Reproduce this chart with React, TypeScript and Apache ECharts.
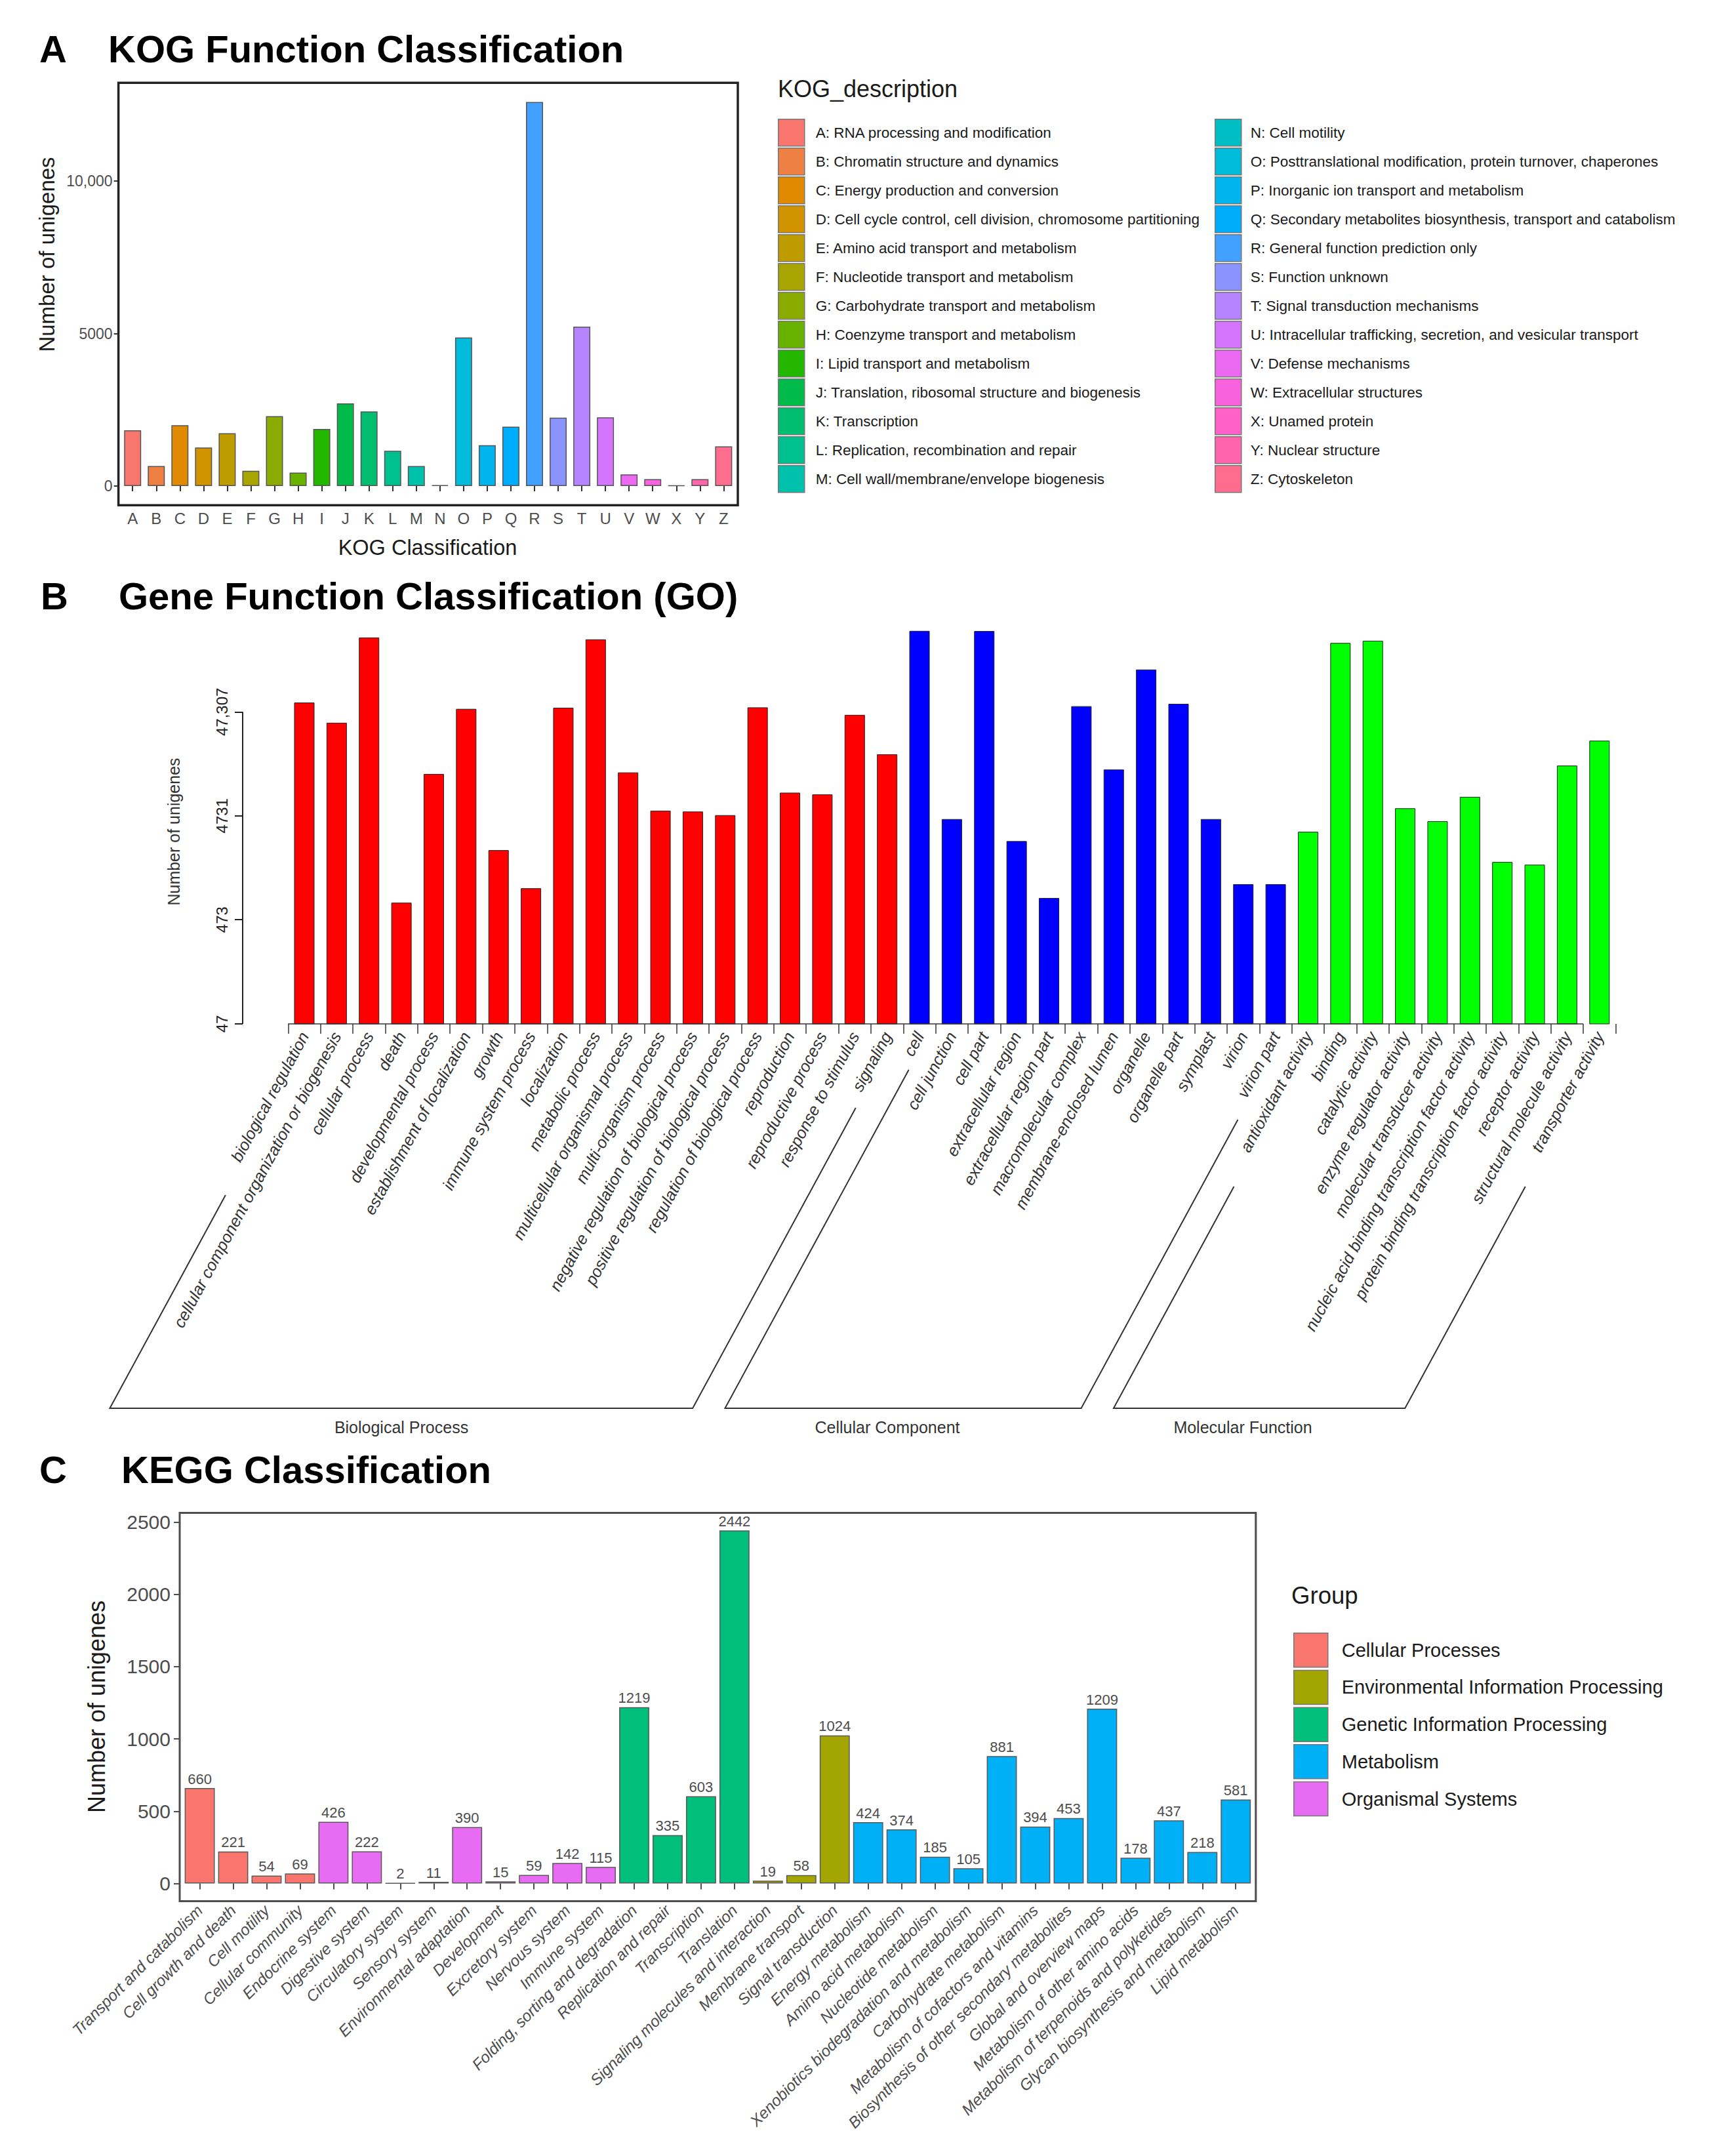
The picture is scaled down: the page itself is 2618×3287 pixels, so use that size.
import React, { useEffect, useRef } from 'react';
import * as echarts from 'echarts';

const FONT = '"Liberation Sans", Arial, Helvetica, sans-serif';

// ---------------- Panel A: KOG ----------------
const kogLetters = ['A', 'B', 'C', 'D', 'E', 'F', 'G', 'H', 'I', 'J', 'K', 'L', 'M', 'N', 'O', 'P', 'Q', 'R', 'S', 'T', 'U', 'V', 'W', 'X', 'Y', 'Z'];
const kogDescriptions = [
  'RNA processing and modification',
  'Chromatin structure and dynamics',
  'Energy production and conversion',
  'Cell cycle control, cell division, chromosome partitioning',
  'Amino acid transport and metabolism',
  'Nucleotide transport and metabolism',
  'Carbohydrate transport and metabolism',
  'Coenzyme transport and metabolism',
  'Lipid transport and metabolism',
  'Translation, ribosomal structure and biogenesis',
  'Transcription',
  'Replication, recombination and repair',
  'Cell wall/membrane/envelope biogenesis',
  'Cell motility',
  'Posttranslational modification, protein turnover, chaperones',
  'Inorganic ion transport and metabolism',
  'Secondary metabolites biosynthesis, transport and catabolism',
  'General function prediction only',
  'Function unknown',
  'Signal transduction mechanisms',
  'Intracellular trafficking, secretion, and vesicular transport',
  'Defense mechanisms',
  'Extracellular structures',
  'Unamed protein',
  'Nuclear structure',
  'Cytoskeleton',
];
const kogCounts = [1826, 656, 1993, 1265, 1730, 501, 2291, 442, 1873, 2709, 2446, 1158, 656, 30, 4869, 1337, 1945, 12590, 2243, 5227, 2255, 382, 227, 20, 227, 1301];
const kogTickValues = [0, 5000, 10000];
const kogTickLabels = ['0', '5000', '10,000'];

// ---------------- Panel B: GO ----------------
const goTerms = [
  'biological regulation',
  'cellular component organization or biogenesis',
  'cellular process',
  'death',
  'developmental process',
  'establishment of localization',
  'growth',
  'immune system process',
  'localization',
  'metabolic process',
  'multicellular organismal process',
  'multi-organism process',
  'negative regulation of biological process',
  'positive regulation of biological process',
  'regulation of biological process',
  'reproduction',
  'reproductive process',
  'response to stimulus',
  'signaling',
  'cell',
  'cell junction',
  'cell part',
  'extracellular region',
  'extracellular region part',
  'macromolecular complex',
  'membrane-enclosed lumen',
  'organelle',
  'organelle part',
  'symplast',
  'virion',
  'virion part',
  'antioxidant activity',
  'binding',
  'catalytic activity',
  'enzyme regulator activity',
  'molecular transducer activity',
  'nucleic acid binding transcription factor activity',
  'protein binding transcription factor activity',
  'receptor activity',
  'structural molecule activity',
  'transporter activity',
];
const goGroupOf = [
  0, 0, 0, 0, 0, 0, 0, 0, 0, 0, 0, 0, 0, 0, 0, 0, 0, 0, 0,
  1, 1, 1, 1, 1, 1, 1, 1, 1, 1, 1, 1,
  2, 2, 2, 2, 2, 2, 2, 2, 2, 2,
];
const goCounts = [
  58200, 37200, 246000, 690, 11960, 50600, 2210, 950, 51900, 236000, 12370, 5300, 5200, 4800, 52300, 7900, 7600, 44300, 18500,
  285000, 4400, 284000, 2700, 765, 53700, 13200, 121000, 56600, 4400, 1040, 1040,
  3320, 218000, 229000, 5590, 4200, 7200, 1700, 1600, 14400, 25000,
];
const goGroupNames = ['Biological Process', 'Cellular Component', 'Molecular Function'];
const goGroupColors = ['#FF0000', '#0000FF', '#00FF00'];
const goTickValues = [47, 473, 4731, 47307];
const goTickLabels = ['47', '473', '4731', '47,307'];

// ---------------- Panel C: KEGG ----------------
const keggPathways = [
  'Transport and catabolism',
  'Cell growth and death',
  'Cell motility',
  'Cellular community',
  'Endocrine system',
  'Digestive system',
  'Circulatory system',
  'Sensory system',
  'Environmental adaptation',
  'Development',
  'Excretory system',
  'Nervous system',
  'Immune system',
  'Folding, sorting and degradation',
  'Replication and repair',
  'Transcription',
  'Translation',
  'Signaling molecules and interaction',
  'Membrane transport',
  'Signal transduction',
  'Energy metabolism',
  'Amino acid metabolism',
  'Nucleotide metabolism',
  'Xenobiotics biodegradation and metabolism',
  'Carbohydrate metabolism',
  'Metabolism of cofactors and vitamins',
  'Biosynthesis of other secondary metabolites',
  'Global and overview maps',
  'Metabolism of other amino acids',
  'Metabolism of terpenoids and polyketides',
  'Glycan biosynthesis and metabolism',
  'Lipid metabolism',
];
const keggGroups = [
  'Cellular Processes',
  'Environmental Information Processing',
  'Genetic Information Processing',
  'Metabolism',
  'Organismal Systems',
];
const keggGroupOf = [
  0, 0, 0, 0,
  4, 4, 4, 4, 4, 4, 4, 4, 4,
  2, 2, 2, 2,
  1, 1, 1,
  3, 3, 3, 3, 3, 3, 3, 3, 3, 3, 3, 3,
];
const keggCounts = [660, 221, 54, 69, 426, 222, 2, 11, 390, 15, 59, 142, 115, 1219, 335, 603, 2442, 19, 58, 1024, 424, 374, 185, 105, 881, 394, 453, 1209, 178, 437, 218, 581];
const keggTickValues = [0, 500, 1000, 1500, 2000, 2500];
const keggTickLabels = ['0', '500', '1000', '1500', '2000', '2500'];

// ---------------- layout (pixels) ----------------
const LAYOUT = {
  frameA: { x: 180.6, y: 126.3, w: 944.4, h: 644 },
  frameC: { x: 274, y: 2306.4, w: 1640.8, h: 592 },
  gridB: { left: 439.3, top: 927.4, width: 2024.2, height: 633.6, yOffset: 69.3 },
  goMax: 470000,
  goSlant: 1.842,
  goLineDx: 14,
  goLineDy: 14,
  goBracketBottom: 586,
  goBracketTops: [[261, 128], [70, 146], [248, 248]],
  goGroupLabelX: [612, 1353, 1895],
  goGroupLabelDy: 615,
};

// ggplot2-like hue palette (HCL, c=100, l=65)
function hueColor(h: number): string {
  const Lum = 65, C = 100;
  const hr = (h * Math.PI) / 180;
  const U = C * Math.cos(hr);
  const V = C * Math.sin(hr);
  const Xn = 95.047, Yn = 100.0, Zn = 108.883;
  const Y = Yn * Math.pow((Lum + 16) / 116, 3);
  const den = Xn + 15 * Yn + 3 * Zn;
  const un = (4 * Xn) / den;
  const vn = (9 * Yn) / den;
  const up = U / (13 * Lum) + un;
  const vp = V / (13 * Lum) + vn;
  const X = (9 * Y * up) / (4 * vp);
  const Z = (Y * (12 - 3 * up - 20 * vp)) / (4 * vp);
  const x = X / 100, y = Y / 100, z = Z / 100;
  const lin = [
    3.240479 * x - 1.53715 * y - 0.498535 * z,
    -0.969256 * x + 1.875992 * y + 0.041556 * z,
    0.055648 * x - 0.204043 * y + 1.057311 * z,
  ];
  return '#' + lin.map((v) => {
    let c = v <= 0.0031308 ? 12.92 * v : 1.055 * Math.pow(v, 1 / 2.4) - 0.055;
    c = Math.min(1, Math.max(0, c));
    return Math.round(c * 255).toString(16).padStart(2, '0');
  }).join('');
}
function huePal(n: number): string[] {
  return Array.from({ length: n }, (_, i) => hueColor(15 + (i * 360) / n));
}

const pickLabel = (vals: number[], labels: string[]) => (v: number) => {
  const i = vals.findIndex((t) => Math.abs(t - v) <= Math.abs(t) * 1e-6 + 1e-9);
  return i >= 0 ? labels[i] : '';
};

function buildOption(): any {
  const kogColors = huePal(kogLetters.length);
  const keggColors = huePal(keggGroups.length);
  const kogNames = kogLetters.map((l, i) => `${l}: ${kogDescriptions[i]}`);

  const fA = LAYOUT.frameA;
  const unitA = fA.w / (kogLetters.length - 1 + 1.2);
  const fC = LAYOUT.frameC;
  const unitC = fC.w / (keggPathways.length - 1 + 1.2);
  const kogMax = Math.max(...kogCounts);
  const keggMax = Math.max(...keggCounts);

  const legendCommon = {
    orient: 'vertical',
    padding: 0,
    icon: 'rect',
    selectedMode: false,
    itemWidth: 40,
    itemHeight: 41,
    itemGap: 1.5,
    itemStyle: { borderColor: '#777777', borderWidth: 1.5 },
    textStyle: { fontFamily: FONT, fontSize: 22.5, color: '#1a1a1a', padding: [0, 0, 0, 12] },
  };

  const catLabel = { fontFamily: FONT, color: '#4d4d4d' };

  return {
    animation: false,
    backgroundColor: '#ffffff',
    textStyle: { fontFamily: FONT },
    grid: [
      { left: fA.x + 0.1 * unitA, top: fA.y, width: unitA * kogLetters.length, height: fA.h, outerBoundsMode: 'none' },
      { left: LAYOUT.gridB.left, top: LAYOUT.gridB.top, width: LAYOUT.gridB.width, height: LAYOUT.gridB.height, outerBoundsMode: 'none' },
      { left: fC.x + 0.1 * unitC, top: fC.y, width: unitC * keggPathways.length, height: fC.h, outerBoundsMode: 'none' },
    ],
    xAxis: [
      {
        type: 'category', gridIndex: 0, data: kogLetters,
        axisLine: { show: false },
        axisTick: { show: true, alignWithLabel: true, interval: 0, length: 8, lineStyle: { color: '#333333', width: 2 } },
        axisLabel: { ...catLabel, interval: 0, fontSize: 24, margin: 8 },
      },
      {
        type: 'category', gridIndex: 1, data: goTerms,
        axisLine: { show: false },
        axisTick: { show: true, alignWithLabel: false, interval: 0, length: 15, lineStyle: { color: '#333333', width: 1.5 } },
        axisLabel: { fontFamily: FONT, color: '#333333', interval: 0, fontSize: 25, fontStyle: 'italic', rotate: 61.5, margin: 14 },
      },
      {
        type: 'category', gridIndex: 2, data: keggPathways,
        axisLine: { show: false },
        axisTick: { show: true, alignWithLabel: true, interval: 0, length: 9, lineStyle: { color: '#4d4d4d', width: 2 } },
        axisLabel: { ...catLabel, interval: 0, fontSize: 24, fontStyle: 'italic', rotate: 45, margin: 10 },
      },
    ],
    yAxis: [
      {
        type: 'value', gridIndex: 0, min: -0.05 * kogMax, max: 1.05 * kogMax, offset: 0.1 * unitA,
        axisLine: { show: false }, splitLine: { show: false },
        axisTick: { show: true, length: 7, customValues: kogTickValues, lineStyle: { color: '#333333', width: 2 } },
        axisLabel: { ...catLabel, fontSize: 23, margin: 9, customValues: kogTickValues, formatter: pickLabel(kogTickValues, kogTickLabels) },
      },
      {
        type: 'log', logBase: 10, gridIndex: 1, min: goTickValues[0], max: LAYOUT.goMax, offset: LAYOUT.gridB.yOffset,
        axisLine: { show: false }, splitLine: { show: false },
        axisTick: { show: true, length: 12, customValues: goTickValues, lineStyle: { color: '#222222', width: 2 } },
        axisLabel: { fontFamily: FONT, color: '#222222', fontSize: 24, rotate: 90, margin: 20, customValues: goTickValues, formatter: pickLabel(goTickValues, goTickLabels) },
      },
      {
        type: 'value', gridIndex: 2, min: -0.05 * keggMax, max: 1.05 * keggMax, offset: 0.1 * unitC,
        axisLine: { show: false }, splitLine: { show: false },
        axisTick: { show: true, length: 9, customValues: keggTickValues, lineStyle: { color: '#4d4d4d', width: 2 } },
        axisLabel: { ...catLabel, fontSize: 30, margin: 14, customValues: keggTickValues, formatter: pickLabel(keggTickValues, keggTickLabels) },
      },
    ],
    legend: [
      { ...legendCommon, data: kogNames.slice(0, 13), left: 1186, top: 181 },
      { ...legendCommon, data: kogNames.slice(13), left: 1852, top: 181, textStyle: { ...legendCommon.textStyle, padding: [0, 0, 0, 9] } },
      {
        ...legendCommon, data: keggGroups, left: 1972, top: 2489, itemWidth: 52, itemHeight: 52, itemGap: 3.2,
        textStyle: { fontFamily: FONT, fontSize: 29, color: '#1a1a1a', padding: [0, 0, 0, 16] },
      },
    ],
    series: [
      ...kogNames.map((name, i) => ({
        type: 'bar', name, xAxisIndex: 0, yAxisIndex: 0, stack: 'kog', barCategoryGap: '28%',
        data: kogCounts.map((v, j) => (j === i ? v : '-')),
        itemStyle: { color: kogColors[i], borderColor: '#555555', borderWidth: 1.5 },
        emphasis: { disabled: true },
      })),
      {
        type: 'bar', name: 'GO', xAxisIndex: 1, yAxisIndex: 1, barWidth: 31, clip: true,
        data: goCounts.map((v, i) => ({ value: v, itemStyle: { color: goGroupColors[goGroupOf[i]] } })),
        itemStyle: { borderColor: '#222222', borderWidth: 1 },
        emphasis: { disabled: true },
      },
      ...keggGroups.map((g, gi) => ({
        type: 'bar', name: g, xAxisIndex: 2, yAxisIndex: 2, stack: 'kegg', barCategoryGap: '10%',
        data: keggCounts.map((v, j) => (keggGroupOf[j] === gi ? v : '-')),
        itemStyle: { color: keggColors[gi], borderColor: '#595959', borderWidth: 1.5 },
        label: { show: true, position: 'top', distance: 3, fontFamily: FONT, fontSize: 22, color: '#4d4d4d' },
        emphasis: { disabled: true },
      })),
    ],
  };
}

function text(x: number, y: number, t: string, size: number, opts: any = {}): any {
  return {
    type: 'text', x, y, rotation: opts.rotation || 0, z: 100,
    style: {
      text: t, fontFamily: FONT, fontSize: size, fontWeight: opts.bold ? 'bold' : 'normal',
      fontStyle: opts.italic ? 'italic' : 'normal',
      fill: opts.color || '#000000', align: opts.align || 'center', verticalAlign: 'middle',
    },
  };
}

function buildGraphics(chart: any): any[] {
  const fA = LAYOUT.frameA;
  const fC = LAYOUT.frameC;
  const els: any[] = [];
  // Panel titles
  els.push(text(60, 74, 'A', 58, { bold: true, align: 'left' }));
  els.push(text(165, 74, 'KOG Function Classification', 58, { bold: true, align: 'left' }));
  els.push(text(62, 908, 'B', 58, { bold: true, align: 'left' }));
  els.push(text(181, 908, 'Gene Function Classification (GO)', 58, { bold: true, align: 'left' }));
  els.push(text(60, 2240, 'C', 58, { bold: true, align: 'left' }));
  els.push(text(185, 2240, 'KEGG Classification', 58, { bold: true, align: 'left' }));

  // Panel A frame and titles
  els.push({ type: 'rect', z: 100, shape: { x: fA.x, y: fA.y, width: fA.w, height: fA.h }, style: { fill: 'none', stroke: '#222222', lineWidth: 3.5 } });
  els.push(text(71.5, 388, 'Number of unigenes', 33, { rotation: Math.PI / 2, color: '#1a1a1a' }));
  els.push(text(652, 835, 'KOG Classification', 32.5, { color: '#1a1a1a' }));
  els.push(text(1186, 135, 'KOG_description', 36, { align: 'left', color: '#1a1a1a' }));

  // Panel C frame and titles
  els.push({ type: 'rect', z: 100, shape: { x: fC.x, y: fC.y, width: fC.w, height: fC.h }, style: { fill: 'none', stroke: '#4d4d4d', lineWidth: 3 } });
  els.push(text(147, 2602, 'Number of unigenes', 36, { rotation: Math.PI / 2, color: '#1a1a1a' }));
  els.push(text(1969, 2432, 'Group', 36.6, { align: 'left', color: '#1a1a1a' }));

  // Panel B axis lines, title and group brackets (positions from the chart's own scales)
  const px = (i: number) => chart.convertToPixel({ xAxisIndex: 1 }, i) as number;
  const py = (v: number) => chart.convertToPixel({ yAxisIndex: 1 }, v) as number;
  const band = px(1) - px(0);
  const base = py(goTickValues[0]);
  const axisX = LAYOUT.gridB.left - LAYOUT.gridB.yOffset;
  els.push({ type: 'line', z: 100, shape: { x1: axisX, y1: base, x2: axisX, y2: py(goTickValues[goTickValues.length - 1]) }, style: { stroke: '#222222', lineWidth: 2 } });
  els.push({ type: 'line', z: 100, shape: { x1: px(0) - band / 2, y1: base, x2: px(goTerms.length - 1) - band / 2, y2: base }, style: { stroke: '#333333', lineWidth: 1.5 } });
  els.push(text(265, 1268, 'Number of unigenes', 25, { rotation: Math.PI / 2, color: '#333333' }));

  const yAnchor = base + LAYOUT.goLineDy;
  const xAt = (i: number, y: number) => px(i) + LAYOUT.goLineDx - (y - yAnchor) / LAYOUT.goSlant;
  const bottom = base + LAYOUT.goBracketBottom;
  goGroupNames.forEach((name, g) => {
    const idx = goGroupOf.map((v, i) => (v === g ? i : -1)).filter((i) => i >= 0);
    const i0 = idx[0];
    const i1 = idx[idx.length - 1];
    const topL = base + LAYOUT.goBracketTops[g][0];
    const topR = base + LAYOUT.goBracketTops[g][1];
    els.push({
      type: 'polyline', z: 100,
      shape: { points: [[xAt(i0, topL), topL], [xAt(i0, bottom), bottom], [xAt(i1, bottom), bottom], [xAt(i1, topR), topR]] },
      style: { fill: 'none', stroke: '#333333', lineWidth: 2 },
    });
    els.push(text(LAYOUT.goGroupLabelX[g], base + LAYOUT.goGroupLabelDy, name, 25, { color: '#333333' }));
  });
  return els;
}

export default function App() {
  const ref = useRef<HTMLDivElement>(null);
  useEffect(() => {
    if (!ref.current) return;
    const chart = echarts.init(ref.current, null, { renderer: 'svg' });
    chart.setOption(buildOption());
    chart.setOption({ graphic: { elements: buildGraphics(chart) } });
    return () => chart.dispose();
  }, []);
  return (
    <div
      ref={ref}
      style={{ position: 'fixed', left: 0, top: 0, width: 2618, height: 3287, background: '#ffffff' }}
    />
  );
}
